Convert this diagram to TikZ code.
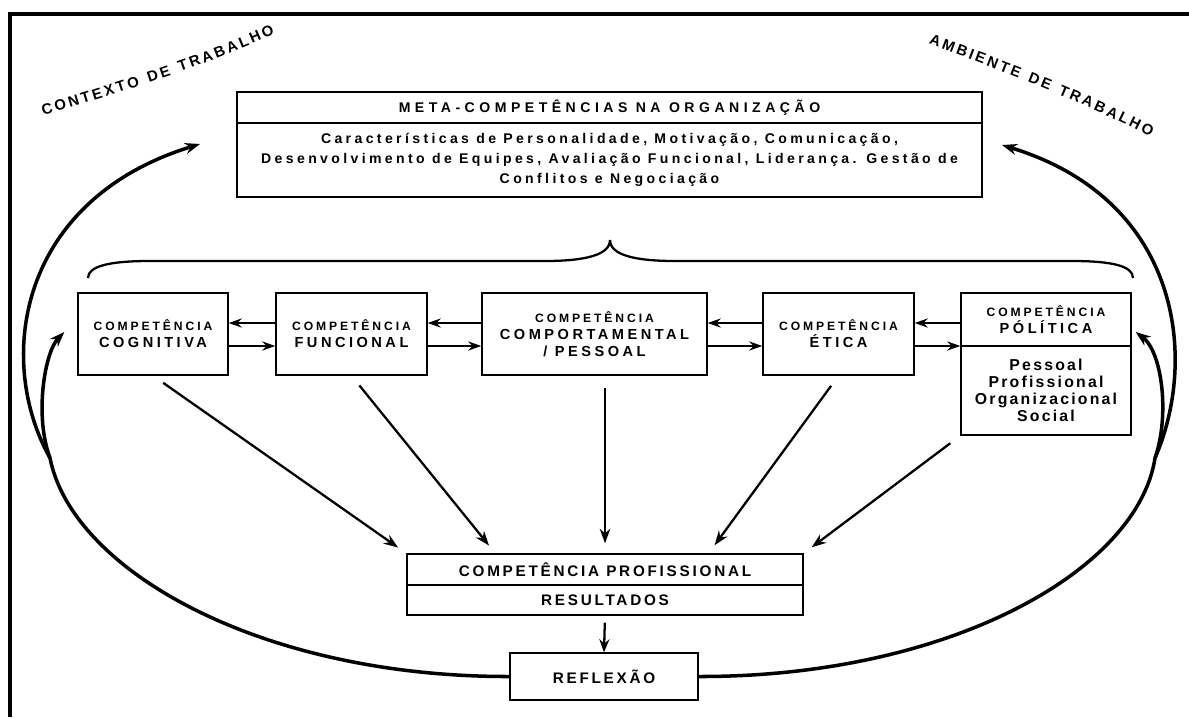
\documentclass[tikz,border=0pt]{standalone}
\usepackage{fontspec}
\setmainfont{Liberation Sans}
\newfontfamily\titlefont[LetterSpace=32]{Liberation Sans}
\newfontfamily\listfont[LetterSpace=24]{Liberation Sans}
\newfontfamily\capsfont[LetterSpace=24]{Liberation Sans}
\newfontfamily\wordfont[LetterSpace=18]{Liberation Sans}
\newfontfamily\polfont[LetterSpace=14]{Liberation Sans}
\usetikzlibrary{arrows.meta,decorations.text}

\newcommand{\cphead}[1]{{\capsfont\fontsize{6.9}{9.7}\selectfont #1}}
\newcommand{\cpname}[1]{{\capsfont\fontsize{8.3}{9.7}\selectfont #1}}

\tikzset{
  box/.style={draw, line width=0.8pt, inner sep=0pt, align=center,
    font=\bfseries\fontsize{8}{9.7}\selectfont},
  harrow/.style={-{Stealth[length=2.6mm,width=1.8mm]}, line width=1.4pt},
  darrow/.style={-{Stealth[length=2.9mm,width=2.1mm]}, line width=1.3pt,
    shorten <=0.25cm, shorten >=0.2cm},
  bigarc/.style={line width=2pt},
  bigtip/.style={-{Stealth[length=3mm,width=2.2mm]}},
}

\begin{document}
\begin{tikzpicture}[x=0.02cm,y=-0.02cm]
\useasboundingbox (0,0) rectangle (1189,717);
\draw[line width=2.2pt] (1189,14) -- (10,14) -- (10,717);

% meta-competencias
\node[box, minimum width=14.9cm, minimum height=0.62cm] (metatitle) at (609.5,107.5)
  {\titlefont\fontsize{8}{9}\selectfont META-COMPETÊNCIAS NA ORGANIZAÇÃO};
\node[box, minimum width=14.9cm, minimum height=1.48cm,
  font=\bfseries\listfont\fontsize{8}{11.3}\selectfont] (metabody) at (609.5,160)
  {\raisebox{-2.5pt}{Características de Personalidade, Motivação, Comunicação,}\\
   \raisebox{-2.5pt}{Desenvolvimento de Equipes, Avaliação Funcional, Liderança. Gestão de}\\
   \raisebox{-2.5pt}{Conflitos e Negociação}};

% brace
\draw[line width=1.3pt] (88,278) .. controls (88,266) and (110,261) .. (150,261)
  -- (545,261) .. controls (585,261) and (610,255) .. (610,240);
\draw[line width=1.3pt] (610,240) .. controls (610,255) and (635,261) .. (675,261)
  -- (1072,261) .. controls (1112,261) and (1133,266) .. (1133,278);

% competencias
\node[box, minimum width=3cm, minimum height=1.64cm] (cog) at (153,334)
  {\cphead{COMPETÊNCIA}\\\cpname{COGNITIVA}};
\node[box, minimum width=3.02cm, minimum height=1.64cm] (fun) at (351.5,334)
  {\cphead{COMPETÊNCIA}\\\cpname{FUNCIONAL}};
\node[box, minimum width=4.5cm, minimum height=1.64cm] (comp) at (594.5,334)
  {\cphead{COMPETÊNCIA}\\\cpname{COMPORTAMENTAL}\\\cpname{/ PESSOAL}};
\node[box, minimum width=3.02cm, minimum height=1.64cm] (etica) at (838.5,334)
  {\cphead{COMPETÊNCIA}\\\cpname{ÉTICA}};
\node[box, minimum width=3.4cm, minimum height=1.06cm] (poltop) at (1046,319.5)
  {\cphead{COMPETÊNCIA}\\\cpname{PÓLÍTICA}};
\node[box, minimum width=3.4cm, minimum height=1.78cm,
  font=\bfseries\polfont\fontsize{9}{9.7}\selectfont] (polbot) at (1046,390.5)
  {Pessoal\\Profissional\\Organizacional\\Social};

\foreach \a/\b in {cog/fun,fun/comp,comp/etica,etica/poltop} {
  \draw[harrow] ([yshift=0.22cm]\a.east -| \b.west) -- ([yshift=0.22cm]\a.east);
  \draw[harrow] ([yshift=-0.24cm]\a.east) -- ([yshift=-0.24cm]\a.east -| \b.west);
}

% profissional e reflexao
\node[box, minimum width=7.92cm, minimum height=0.62cm] (prof) at (605,569.5)
  {\wordfont\fontsize{8.7}{10}\selectfont COMPETÊNCIA PROFISSIONAL};
\node[box, minimum width=7.92cm, minimum height=0.6cm] (result) at (605,600)
  {\wordfont\fontsize{8.7}{10}\selectfont RESULTADOS};
\node[box, minimum width=3.76cm, minimum height=0.94cm] (refl) at (604,676.5)
  {\wordfont\fontsize{8.7}{10}\selectfont REFLEXÃO};

\draw[darrow] (cog.south) -- (prof.north west);
\draw[darrow] (fun.south) -- ([xshift=1.78cm]prof.north west);
\draw[darrow] (prof.north |- comp.south) -- (prof.north);
\draw[darrow] (etica.south) -- ([xshift=-1.9cm]prof.north east);
\draw[darrow] (polbot.south west) -- (prof.north east);
\draw[-{Stealth[length=2.6mm,width=2mm]}, line width=1.3pt, shorten <=0.14cm]
  (result.south) -- (refl.north);

% contexto / ambiente
\coordinate (jl) at (50,458);
\coordinate (jr) at (1155,458);
\coordinate (ctxtip) at (200,144);
\coordinate (ambtip) at (1002,145);
\draw[bigarc] (refl.west) .. controls (260,677) and (72,570) .. (jl);
\draw[bigarc,bigtip] (jl) .. controls (-5,360) and (18,200) .. (ctxtip);
\draw[bigarc,bigtip] (jl) .. controls (34,415) and (45,352) .. ([xshift=-0.26cm,yshift=0.04cm]cog.west);
\draw[bigarc] (refl.east) .. controls (950,677) and (1138,570) .. (jr);
\draw[bigarc,bigtip] (jr) .. controls (1198,360) and (1182,200) .. (ambtip);
\draw[bigarc,bigtip] (jr) .. controls (1170,415) and (1162,352) .. ([xshift=0.08cm,yshift=-0.25cm]poltop.east);

\path[decorate, decoration={text along path, text align=center,
  text={|\bfseries\fontsize{8.5}{9}\selectfont\kern1.5pt|CONTEXTO DE TRABALHO}}]
  (28,120) .. controls (105,97) and (205,68) .. (287,28);
\path[decorate, decoration={text along path, text align=center,
  text={|\bfseries\fontsize{8.5}{9}\selectfont\kern1.5pt|AMBIENTE DE TRABALHO}}]
  (918,40) .. controls (995,68) and (1080,100) .. (1158,141);
\end{tikzpicture}
\end{document}
